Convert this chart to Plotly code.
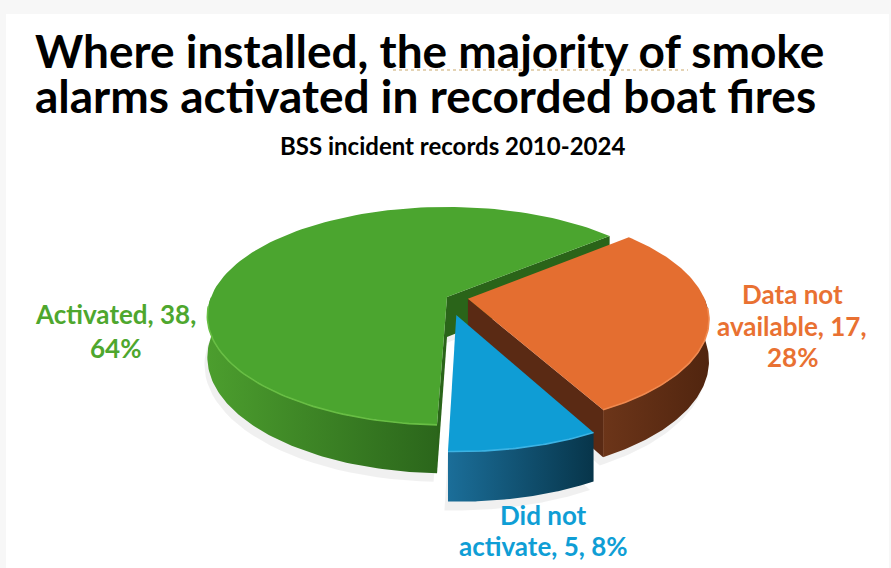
import numpy as np
import plotly.graph_objects as go

# ---------------- data ----------------
categories = ["Data not available", "Did not activate", "Activated"]
counts = [17, 5, 38]
pct_text = ["28%", "8%", "64%"]
label_lines = [["Data not", "available, 17,", "28%"],
               ["Did not", "activate, 5, 8%"],
               ["Activated, 38,", "64%"]]

title_lines = ["Where installed, the majority of smoke",
               "alarms activated in recorded boat fires"]
subtitle = "BSS incident records 2010-2024"

# ---------------- style ----------------
top_colors = ["#E46E30", "#0F9DD5", "#4BA52F"]
text_colors = ["#E97132", "#0F9ED5", "#4EA72E"]
rim_colors = ["#F0894F", "#3CB3E4", "#68BE44"]
wall_grad = [("#6C3519", "#51250F"), ("#1B6E99", "#07354A"), ("#4C9E2E", "#2B661B")]
radial_colors = ["#5A2A14", "#0B4A66", "#2A6419"]
explode = [0.09, 0.17, 0.0]
label_x = [792, 543, 115]
label_y0 = [294, 515, 314]
label_dy = [31.5, 31, 34]

CX, CY = 447, 297       # pie centre (px)
RX, RY = 236, 105.7     # radii (px)
P = 0.174               # perspective strength
H = 40                  # wall height (px)
START = 50              # start angle, degrees clockwise from 12 o'clock
FONT = "Lato"


def proj(u, z, drop=0.0):
    s = 1.0 / (1.0 + P * z)
    return CX + RX * u * s, CY - RY * z * s + drop * s


total = sum(counts)
angles = []
a = START
for c in counts:
    span = 360.0 * c / total
    angles.append((a, a + span))
    a += span

fig = go.Figure()


def poly(xs, ys, **kw):
    fig.add_trace(go.Scatter(x=list(xs), y=list(ys), mode="lines", fill="toself",
                             hoverinfo="skip", showlegend=False, **kw))


slices = []
for i, (a0, a1) in enumerate(angles):
    mid = np.radians((a0 + a1) / 2)
    ou, oz = explode[i] * np.sin(mid), explode[i] * np.cos(mid)
    slices.append((i, a0, a1, ou, oz, np.cos(mid) + oz))

# shadows first
for i, a0, a1, ou, oz, _ in slices:
    th = np.radians(np.linspace(a0, a1, 80))
    u = np.concatenate([[ou], np.sin(th) + ou, [ou]])
    z = np.concatenate([[oz], np.cos(th) + oz, [oz]])
    xs, ys = proj(u - 0.012, z, H + 7)
    poly(xs, ys, line=dict(width=0), fillcolor="rgba(0,0,0,0.06)")

# back to front
for i, a0, a1, ou, oz, _ in sorted(slices, key=lambda s: -s[5]):
    # radial walls
    for ang, cw in ((a1, True), (a0, False)):
        sn = np.sin(np.radians(ang))
        visible = sn > 0 if cw else sn < 0
        if visible:
            eu, ez = np.sin(np.radians(ang)) + ou, np.cos(np.radians(ang)) + oz
            x1, y1 = proj(ou, oz)
            x2, y2 = proj(eu, ez)
            x3, y3 = proj(eu, ez, H)
            x4, y4 = proj(ou, oz, H)
            poly([x1, x2, x3, x4, x1], [y1, y2, y3, y4, y1],
                 line=dict(width=0), fillcolor=radial_colors[i])
    # outer wall (front part)
    for base in (0, 360):
        lo, hi = max(a0, 90 + base), min(a1, 270 + base)
        if hi > lo:
            th = np.radians(np.linspace(lo, hi, 80))
            u, z = np.sin(th) + ou, np.cos(th) + oz
            xt, yt = proj(u, z)
            xb, yb = proj(u, z, H)
            poly(np.concatenate([xt, xb[::-1], xt[:1]]),
                 np.concatenate([yt, yb[::-1], yt[:1]]),
                 line=dict(width=0),
                 fillgradient=dict(type="horizontal",
                                   colorscale=[[0, wall_grad[i][0]], [1, wall_grad[i][1]]]))
    # top face
    th = np.radians(np.linspace(a0, a1, 120))
    u = np.concatenate([[ou], np.sin(th) + ou, [ou]])
    z = np.concatenate([[oz], np.cos(th) + oz, [oz]])
    xs, ys = proj(u, z)
    poly(xs, ys, line=dict(width=0), fillcolor=top_colors[i])
    # rim highlight on front edge
    for base in (0, 360):
        lo, hi = max(a0, 95 + base), min(a1, 265 + base)
        if hi > lo:
            th = np.radians(np.linspace(lo, hi, 60))
            xr, yr = proj(np.sin(th) + ou, np.cos(th) + oz)
            fig.add_trace(go.Scatter(x=xr, y=yr, mode="lines", hoverinfo="skip",
                                     showlegend=False,
                                     line=dict(color=rim_colors[i], width=1.6)))

# data labels
for i, lines in enumerate(label_lines):
    for k, line in enumerate(lines):
        fig.add_annotation(x=label_x[i], y=label_y0[i] + k * label_dy[i], text=line,
                           showarrow=False, xanchor="center", yanchor="middle",
                           font=dict(family=FONT, size=26, color=text_colors[i], weight="bold"))

# titles (single text block, two lines)
fig.add_annotation(x=33, y=50, text=title_lines[0], showarrow=False, xanchor="left",
                   yanchor="middle", font=dict(family=FONT, size=46, color="black", weight="bold"))
fig.add_annotation(x=33, y=95, text=title_lines[1], showarrow=False, xanchor="left",
                   yanchor="middle", font=dict(family=FONT, size=46, color="black", weight="bold"))
fig.add_annotation(x=452, y=145, text=subtitle, showarrow=False, xanchor="center",
                   yanchor="middle", font=dict(family=FONT, size=24, color="black", weight="bold"))

fig.update_layout(
    width=891, height=568, margin=dict(l=0, r=0, t=0, b=0),
    paper_bgcolor="#F7F7F7", plot_bgcolor="rgba(0,0,0,0)",
    xaxis=dict(range=[0, 891], visible=False, fixedrange=True),
    yaxis=dict(range=[568, 0], visible=False, fixedrange=True),
    shapes=[dict(type="rect", xref="x", yref="y", x0=6, x1=889, y0=14, y1=570,
                 fillcolor="white", line=dict(width=0), layer="below"),
            dict(type="line", xref="x", yref="y", x0=393, x1=688, y0=70, y1=70,
                 line=dict(color="#C9A86A", width=1.2, dash="dot"), layer="above")],
)
fig.write_html("out.html")
